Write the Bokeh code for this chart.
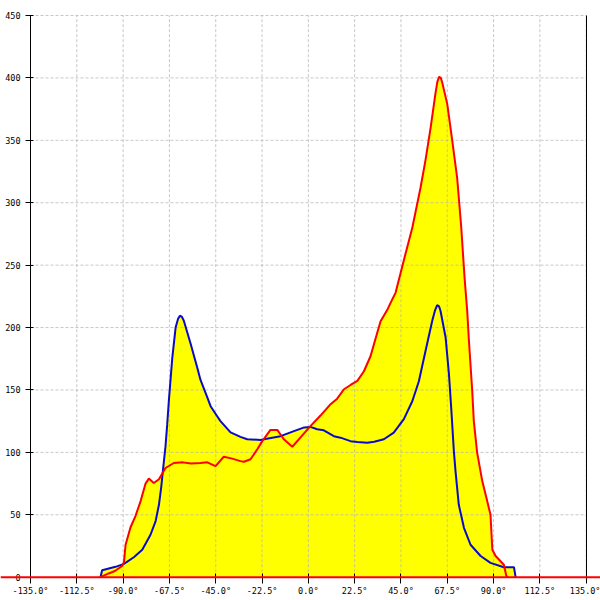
from bokeh.plotting import figure
from bokeh.models import LinearAxis, FixedTicker, Range1d, PrintfTickFormatter, Span
from bokeh.embed import file_html
from bokeh.resources import INLINE

# ---- data (degrees, counts) ----
red_x = [-101, -97, -94, -90.5, -89.6, -88.8, -86.4, -84, -81.5, -79.1, -77.5, -75.1,
         -72.6, -69.4, -65.4, -61, -57, -52.4, -49.1, -45.1, -41.1, -37, -33, -31.3,
         -28.1, -24.8, -22.4, -18.4, -15.1, -11.9, -7.8, -3.8, 1, 5.9, 10.8, 14, 17.3,
         20.5, 23.8, 27, 30.2, 33.5, 35.1, 38.3, 40, 42.4, 46.4, 50.5, 54.5, 56.9, 59.4,
         61.8, 62.7, 63.6, 64.4, 65.1, 67.5, 69.9, 72.3, 74.3, 75.9, 77.2, 78, 79.6, 80.4, 82, 84.5,
         86.9, 88.5, 89.4, 91, 95, 96.2, 97]
red_y = [0, 3, 5, 9, 12, 26, 40, 49, 61, 75, 79, 75.5,
         78.5, 87.5, 91.5, 92, 91, 91.5, 92, 89, 96.5, 95, 93, 92.5,
         94.5, 102.5, 109, 118, 118, 110.5, 104.5, 112, 121, 129.5, 138.6, 143, 150.6,
         154, 157.3, 165, 177, 196, 205, 214, 220, 228, 254, 280, 312, 334, 360,
         388, 397, 401, 400, 396, 379, 350, 320, 280, 240, 213, 190, 150, 125, 100, 77,
         61, 50, 22, 17, 10, 1, 0]

blue_x = [-101, -100.2, -93.7, -89.6, -84.8, -80.7, -76.7, -74.2, -72.6, -71.5, -70.5,
          -69.4, -68.6, -67.8, -66.1, -64.5, -63.3, -62.4, -61.4, -60.5, -57.2, -54, -52.4, -49.1,
          -47.5, -44.3, -42.7, -37.8, -33, -29.7, -23.2, -21.6, -13.5, -7, -2, 1, 4.3,
          7.5, 12.4, 15.6, 20.5, 23.8, 28.6, 32, 36.7, 41.5, 46.4, 50.5, 53.7, 56.9,
          60.2, 61.6, 62.6, 63.5, 64.2, 66.7, 68.3, 69.4, 70.7, 71.5, 73.1, 75.6, 78.8, 83.7, 88.5,
          95, 99.9, 100.7]
blue_y = [0, 5.6, 8.3, 10.7, 16, 22, 34, 45, 58, 72, 88,
          105, 122, 141, 176, 200, 207, 209.5, 208.5, 205.5, 187, 168, 158, 144,
          137, 129, 125, 116, 112.4, 110.5, 110, 110.5, 113, 117, 120, 120.4, 118.5,
          117.7, 113, 111.8, 109, 108.3, 107.8, 108.5, 110.5, 115.8, 126.6, 141, 157, 181,
          205.5, 214, 218, 217, 213.5, 192, 163, 136, 101, 85, 58, 39.6, 26, 17, 11.5,
          8, 8, 0]

x_ticks = [-135, -112.5, -90, -67.5, -45, -22.5, 0, 22.5, 45, 67.5, 90, 112.5, 135]
y_ticks = [0, 50, 100, 150, 200, 250, 300, 350, 400, 450]

FONT = "DejaVu Sans Mono"
FSIZE = "8.5px"

p = figure(width=600, height=600,
           x_range=Range1d(-149.58, 141.95), y_range=Range1d(-18.67, 462.03),
           x_axis_type=None, y_axis_type=None,
           toolbar_location=None, output_backend="svg",
           min_border_left=0, min_border_right=0, min_border_top=0, min_border_bottom=0)
p.outline_line_color = None
p.background_fill_color = "white"
p.border_fill_color = "white"

# yellow fills under both curves
p.varea(x=red_x, y1=0, y2=red_y, fill_color="#ffff00")
p.varea(x=blue_x, y1=0, y2=blue_y, fill_color="#ffff00")

# dashed grid
x0, x1 = x_ticks[0], x_ticks[-1]
y0, y1 = y_ticks[0], y_ticks[-1]
p.segment(x0=x_ticks, y0=[y0] * len(x_ticks), x1=x_ticks, y1=[y1] * len(x_ticks),
          line_color="#b4b4b4", line_alpha=0.75, line_width=1, line_dash="3 2")
p.segment(x0=[x0] * (len(y_ticks) - 1), y0=y_ticks[1:], x1=[x1] * (len(y_ticks) - 1), y1=y_ticks[1:],
          line_color="#b4b4b4", line_alpha=0.75, line_width=1, line_dash="3 2")

# data lines
p.line(blue_x, blue_y, line_color="#0a0ac8", line_width=2)
p.line(red_x, red_y, line_color="#ff0000", line_width=2)

# left axis
yax = LinearAxis(fixed_location=x0, bounds=(y0, y1), ticker=FixedTicker(ticks=y_ticks))
yax.major_tick_out = 5
yax.major_tick_in = 3
yax.minor_tick_out = 0
yax.minor_tick_in = 0
yax.major_label_standoff = 5
yax.major_label_text_font = FONT
yax.major_label_text_font_size = FSIZE
yax.major_label_text_color = "black"
yax.axis_line_color = "black"
p.add_layout(yax, "left")

# right axis line only
rax = LinearAxis(fixed_location=x1, bounds=(y0, y1), ticker=FixedTicker(ticks=[]))
rax.major_tick_out = 0
rax.major_tick_in = 0
rax.minor_tick_out = 0
rax.minor_tick_in = 0
rax.major_label_text_font_size = "0px"
rax.axis_line_color = "black"
p.add_layout(rax, "right")

# bottom axis
xax = LinearAxis(fixed_location=0, bounds=(x0, x1), ticker=FixedTicker(ticks=x_ticks),
                 formatter=PrintfTickFormatter(format="%.1f°"))
xax.major_tick_out = 6
xax.major_tick_in = 4
xax.minor_tick_out = 0
xax.minor_tick_in = 0
xax.major_label_standoff = 3
xax.major_label_text_font = FONT
xax.major_label_text_font_size = FSIZE
xax.major_label_text_color = "black"
xax.axis_line_color = "black"
p.add_layout(xax, "below")

# red baseline across the full width
p.add_layout(Span(location=0, dimension="width", line_color="#ff0000", line_width=2))

open("out.html", "w").write(file_html(p, INLINE))
